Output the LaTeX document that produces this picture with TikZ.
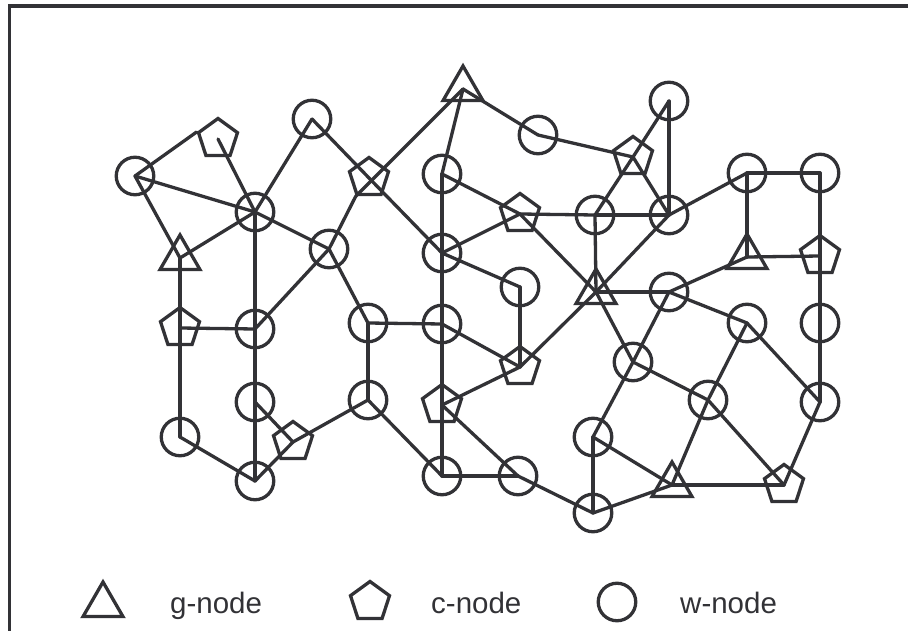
\documentclass[tikz,border=0pt]{standalone}
\usepackage{fontspec}
\setmainfont{Liberation Sans}
\usetikzlibrary{shapes.geometric}
\definecolor{ink}{RGB}{50,50,54}
\begin{document}
\begin{tikzpicture}[x=1pt,y=-1pt,
  wnode/.style={circle, draw=ink, line width=3.3pt, minimum size=37.5pt, inner sep=0pt},
  cnode/.style={regular polygon, regular polygon sides=5, draw=ink, line width=3.3pt, minimum size=41pt, inner sep=0pt},
  gnode/.style={regular polygon, regular polygon sides=3, draw=ink, line width=3.3pt, minimum size=46pt, inner sep=0pt},
  link/.style={draw=ink, line width=3.3pt, line cap=round, line join=round},
  frame/.style={draw=ink, line width=3.3pt},
  legtext/.style={anchor=base west, font=\fontsize{29.5}{34}\selectfont, text=ink, inner sep=0pt}]
\useasboundingbox (0,0) rectangle (908,631);
\draw[frame] (9.5,631) -- (9.5,6) -- (908,6);

% nodes
\node[wnode] (w1) at (135,176) {};
\node[cnode] (c1) at (218,139) {};
\node[wnode] (wt) at (312,119) {};
\node[wnode] (w2) at (255,212) {};
\node[gnode] (t1) at (180,258) {};
\node[wnode] (w3) at (329,249) {};
\node[cnode] (c2) at (369,178) {};
\node[gnode] (tt) at (463,89) {};
\node[wnode] (w10) at (442,174) {};
\node[wnode] (w11) at (538,135) {};
\node[cnode] (c6) at (633,157) {};
\node[wnode] (w12) at (669,101) {};
\node[cnode] (c5) at (520,214) {};
\node[wnode] (w14) at (595,215) {};
\node[wnode] (w13) at (669,215) {};
\node[wnode] (w15) at (747,173) {};
\node[wnode] (w16) at (820,173) {};
\node[gnode] (t3) at (747,257) {};
\node[cnode] (c7) at (820,256) {};
\node[wnode] (w5) at (442,253) {};
\node[wnode] (w20) at (520,287) {};
\node[gnode] (t2) at (596,292) {};
\node[wnode] (w19) at (669,292) {};
\node[cnode] (c3) at (180,328) {};
\node[wnode] (w4) at (255,329) {};
\node[wnode] (w6) at (368,323) {};
\node[wnode] (w21) at (442,324) {};
\node[cnode] (c8) at (520,367) {};
\node[wnode] (w25) at (633,362) {};
\node[wnode] (w28) at (747,323) {};
\node[wnode] (w17) at (820,323) {};
\node[wnode] (wl) at (255,402) {};
\node[wnode] (w7) at (368,400) {};
\node[cnode] (c9) at (442,405) {};
\node[wnode] (w27) at (708,400) {};
\node[wnode] (w18) at (820,402) {};
\node[wnode] (w8) at (180,437) {};
\node[cnode] (c4) at (293,442) {};
\node[wnode] (w26) at (593,437) {};
\node[wnode] (w9) at (255,481) {};
\node[wnode] (w23) at (442,476) {};
\node[wnode] (w22) at (518,476) {};
\node[gnode] (t4) at (672,485) {};
\node[cnode] (c10) at (784,485) {};
\node[wnode] (w24) at (593,513) {};

% connectors
\draw[link] (c1.corner 2) -- (w1.center);
\draw[link] (c2.corner 3) -- (w3.center);
\draw[link] (c2.corner 3) -- (tt.center);
\foreach \a/\b in {w1/w2, w1/t1, c1/w2, wt/w2, wt/c2, c2/w5, w2/t1, w2/w3, w2/w4,
  w4/wl, wl/w9, t1/c3, c3/w8, c3/w4, w4/w3, w3/w6, w6/w21, w6/w7, w7/c4, w7/w23,
  wl/c4, c4/w9, w8/w9, tt/w10, tt/w11, w11/c6, w10/w5, w5/w21, w21/c9, c9/w23,
  w10/c5, w5/c5, w5/w20, w20/c8, w21/c8, c8/t2, c8/c9, c9/w22, w23/w22, w22/w24,
  c5/w14, c5/t2, w14/w13, w14/t2, w12/w13, w12/c6, c6/w14, c6/w13, w13/t2, w13/w15,
  w15/w16, w15/t3, t3/c7, w16/c7, c7/w17, w17/w18, t3/w19, t2/w19, t2/w25, w19/w25,
  w25/w26, w25/w27, w19/w28, w28/w27, w27/t4, w28/w18, w18/c10, w27/c10, t4/c10,
  w26/w24, w26/t4, w24/t4}
  \draw[link] (\a.center) -- (\b.center);

% legend
\node[gnode] (lg) at (103,605) {};
\node[legtext] (lgt) at (170,613) {g-node};
\node[cnode] (lc) at (370,602) {};
\node[legtext] (lct) at (431,613) {c-node};
\node[wnode] (lw) at (617,602) {};
\node[legtext] (lwt) at (680,613) {w-node};
\end{tikzpicture}
\end{document}
